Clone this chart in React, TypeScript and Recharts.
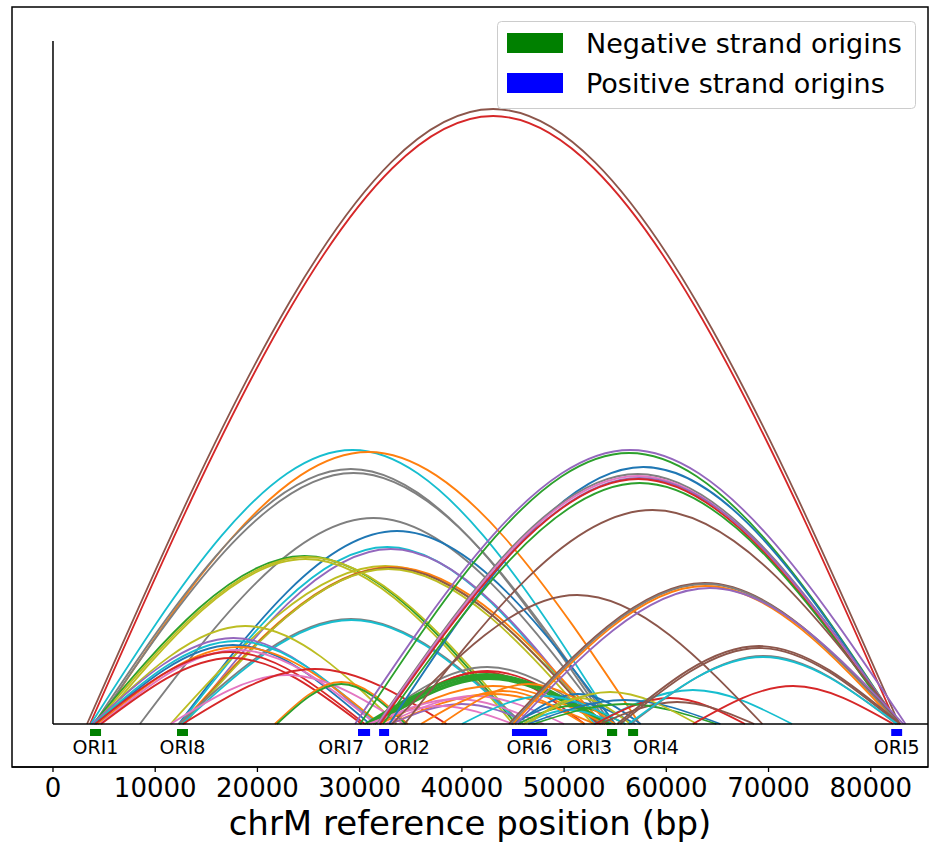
import React from 'react';
import { ComposedChart, Line, XAxis, YAxis, ReferenceArea, ReferenceLine, ReferenceDot, Legend } from 'recharts';

const palette: Record<string, string> = {
  blue: '#1f77b4', orange: '#ff7f0e', green: '#2ca02c', red: '#d62728', purple: '#9467bd',
  brown: '#8c564b', pink: '#e377c2', gray: '#7f7f7f', olive: '#bcbd22', cyan: '#17becf',
};

// arcs: [start bp, end bp, arc height]
const bigArcs = [[3330, 82780, 615], [3620, 82490, 608]];
const bigArcColors = ['brown', 'red'];

const toOri5Arcs = [
  [29550, 83400, 274], [30040, 82700, 271], [32900, 82600, 257], [31700, 82700, 250],
  [31800, 82600, 248], [31900, 82800, 246], [32000, 82500, 245], [32300, 82500, 241],
  [34400, 82900, 214], [44600, 82900, 141], [44800, 82800, 140], [45000, 82600, 138],
  [45300, 83200, 136], [55200, 82900, 78], [55500, 82700, 76], [56500, 82500, 68],
  [56300, 82600, 67], [62600, 82200, 38],
];
const toOri5Colors = [
  'purple', 'green', 'blue', 'gray', 'pink', 'purple', 'red', 'green', 'brown',
  'brown', 'gray', 'orange', 'purple', 'brown', 'brown', 'gray', 'cyan', 'red',
];

const rightArcs = [
  [52900, 72300, 34], [33170, 69400, 129], [53000, 67700, 26], [53500, 68600, 22],
  [46500, 65300, 24], [47000, 64900, 20], [46000, 63000, 32],
];
const rightColors = ['cyan', 'brown', 'red', 'brown', 'blue', 'green', 'olive'];

const leftArcs = [
  [3700, 54900, 274], [4300, 57400, 272], [4000, 54300, 255], [4200, 54600, 251],
  [8500, 54200, 206], [12300, 55000, 193], [12400, 53000, 177], [12900, 53200, 175],
  [3900, 45300, 168], [4100, 45600, 167], [4400, 45000, 165], [11500, 53500, 158],
  [12500, 53800, 157], [12700, 53300, 156], [12800, 52800, 155], [12300, 46000, 105],
  [12600, 45800, 104], [4000, 33600, 98], [3800, 31500, 86], [4000, 31800, 83],
  [4200, 31000, 79], [4400, 32000, 77], [4600, 31600, 74], [4100, 30500, 72],
  [4700, 30200, 66], [11500, 34300, 49], [12700, 38500, 55], [21700, 34700, 42],
  [21900, 34500, 40],
];
const leftColors = [
  'cyan', 'orange', 'gray', 'gray', 'gray', 'blue', 'cyan', 'purple',
  'green', 'olive', 'olive', 'olive', 'orange', 'brown', 'olive', 'gray',
  'cyan', 'olive', 'purple', 'cyan', 'blue', 'orange', 'pink', 'red',
  'red', 'pink', 'red', 'orange', 'green',
];

const middleArcs = [
  [31000, 54000, 57], [31500, 53500, 53], [32000, 52000, 52],
  [30500, 54400, 50], [30700, 54200, 49], [30900, 54500, 48], [31100, 54000, 47],
  [31300, 54300, 46], [31500, 53800, 45], [32000, 54000, 38], [33000, 53000, 30],
  [32500, 50000, 28], [31000, 48000, 25], [33000, 47000, 20], [30800, 45000, 18],
  [44900, 57000, 22], [45500, 56000, 18], [46000, 55000, 14], [45200, 57500, 30],
  [46500, 56500, 26], [38000, 55000, 40], [36000, 52000, 33], [40000, 56000, 28],
];
const middleColors = [
  'gray', 'red', 'red', 'green', 'green', 'green', 'green', 'green', 'green',
  'orange', 'orange', 'pink', 'pink', 'purple', 'pink', 'blue', 'green', 'cyan',
  'blue', 'olive', 'orange', 'orange', 'cyan',
];

const oriNames = ['ORI1', 'ORI8', 'ORI7', 'ORI2', 'ORI6', 'ORI3', 'ORI4', 'ORI5'];
const oriStart = [3620, 12130, 29840, 31900, 44900, 54200, 56260, 82000];
const oriEnd = [4700, 13210, 31020, 32880, 48340, 55190, 57240, 83070];
const oriStrand = ['neg', 'neg', 'pos', 'pos', 'pos', 'neg', 'neg', 'pos'];
const oriLabelAnchor = ['middle', 'middle', 'end', 'start', 'middle', 'end', 'start', 'middle'];

const xTicks = [0, 10000, 20000, 30000, 40000, 50000, 60000, 70000, 80000];
const xTitle = 'chrM reference position (bp)';
const legendLabels = ['Negative strand origins', 'Positive strand origins'];
const strandColors: Record<string, string> = { neg: '#008000', pos: '#0000ff' };
const legendStrands = ['neg', 'pos'];

const xMin = -4010;
const xMax = 85600;
const yMin = -43;
const yMax = 717;
const axisTop = 683;

const groups: [number[][], string[]][] = [
  [bigArcs, bigArcColors],
  [leftArcs, leftColors],
  [middleArcs, middleColors],
  [rightArcs, rightColors],
  [toOri5Arcs, toOri5Colors],
];

const allArcs = groups.flatMap(([arcs, colors]) =>
  arcs.map((a, i) => ({ start: a[0], end: a[1], height: a[2], color: palette[colors[i]] }))
);

const FONT = 'DejaVu Sans, sans-serif';
const MARGIN = { top: 7, right: 3, bottom: 0, left: 12 };
const W = 931;
const H = 843;
const X_AXIS_H = 76;

function LegendBox() {
  return (
    <svg width={419} height={88} style={{ display: 'block' }}>
      <rect x={0.5} y={0.5} width={418} height={87} rx={4} fill="#ffffff" fillOpacity={0.8} stroke="#cccccc" />
      {legendLabels.map((l, i) => (
        <g key={l}>
          <rect x={10} y={12 + i * 40} width={56} height={20} fill={strandColors[legendStrands[i]]} />
          <text x={89} y={32 + i * 40} fontSize={27} fill="#000" fontFamily={FONT}>{l}</text>
        </g>
      ))}
    </svg>
  );
}

export default function App() {
  const plotW = W - MARGIN.left - MARGIN.right;
  const plotH = H - MARGIN.top - MARGIN.bottom - X_AXIS_H;
  return (
    <div style={{ position: 'absolute', left: 0, top: 0, width: W, height: H, fontFamily: FONT, background: '#fff' }}>
      <ComposedChart width={W} height={H} margin={MARGIN}>
        <XAxis
          type="number"
          dataKey="x"
          domain={[xMin, xMax]}
          allowDataOverflow
          ticks={xTicks}
          interval={0}
          height={X_AXIS_H}
          tickSize={5}
          tickMargin={7}
          tick={{ fontSize: 26, fill: '#000' }}
          axisLine={{ stroke: '#000', strokeWidth: 1.3 }}
          tickLine={{ stroke: '#000', strokeWidth: 1.3 }}
          label={{ value: xTitle, position: 'insideBottom', offset: 8, fontSize: 34, fill: '#000' }}
        />
        <YAxis type="number" hide domain={[yMin, yMax]} allowDataOverflow />
        {allArcs.map((a, i) => (
          <Line
            key={i}
            data={[{ x: a.start, y: 0 }, { x: (a.start + a.end) / 2, y: a.height }, { x: a.end, y: 0 }]}
            dataKey="y"
            type="natural"
            dot={false}
            activeDot={false}
            stroke={a.color}
            strokeWidth={1.8}
            isAnimationActive={false}
            legendType="none"
          />
        ))}
        <ReferenceLine segment={[{ x: 0, y: 0 }, { x: 0, y: axisTop }]} stroke="#000" strokeWidth={1.5} />
        <ReferenceLine segment={[{ x: 0, y: 0 }, { x: xMax, y: 0 }]} stroke="#000" strokeWidth={1.5} />
        {oriNames.map((n, i) => (
          <ReferenceArea key={'a' + n} x1={oriStart[i]} x2={oriEnd[i]} y1={-12} y2={-5} fill={strandColors[oriStrand[i]]} fillOpacity={1} stroke="none" />
        ))}
        {oriNames.map((n, i) => (
          <ReferenceDot
            key={'d' + n}
            x={(oriStart[i] + oriEnd[i]) / 2}
            y={-30}
            r={1}
            shape={(p: any) => (
              <text x={p.cx} y={p.cy} textAnchor={oriLabelAnchor[i] as any} fontSize={19} fill="#000" fontFamily={FONT}>{n}</text>
            )}
          />
        ))}
        <Legend
          layout="vertical"
          align="center"
          verticalAlign="middle"
          wrapperStyle={{ left: 497, top: 21, width: 419, height: 88 }}
          content={() => <LegendBox />}
        />
      </ComposedChart>
      <svg width={W} height={H} style={{ position: 'absolute', left: 0, top: 0, pointerEvents: 'none', zIndex: 5 }}>
        <rect x={MARGIN.left} y={MARGIN.top} width={plotW} height={plotH} fill="none" stroke="#000" strokeWidth={1.5} />
      </svg>
    </div>
  );
}
